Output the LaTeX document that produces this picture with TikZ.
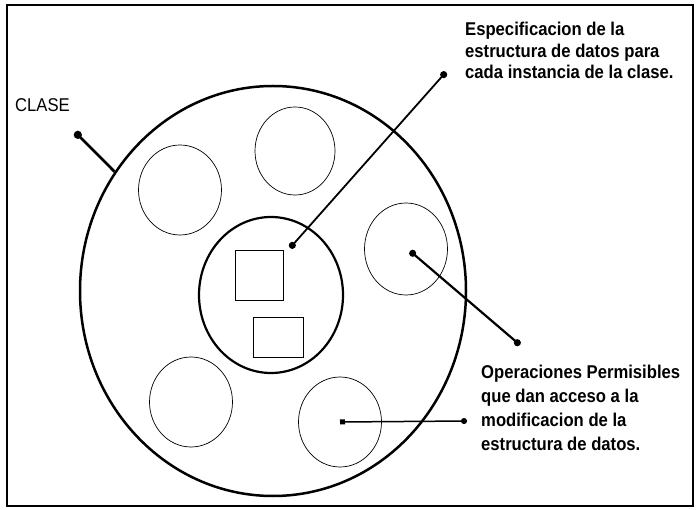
\documentclass[tikz,border=0pt]{standalone}
\usepackage{fontspec}
\setmainfont{Liberation Sans}
\newfontfamily\narrowfont[FakeStretch=0.9]{Liberation Sans}
\usetikzlibrary{shapes.geometric,arrows.meta,positioning}

\begin{document}
\begin{tikzpicture}[x=1pt, y=1pt,
  clase/.style={draw, ellipse, line width=2.5pt, inner sep=0pt},
  objeto/.style={draw, ellipse, line width=0.7pt, inner sep=0pt, minimum width=83pt, minimum height=90pt},
  dato/.style={draw, rectangle, line width=0.7pt, inner sep=0pt},
  guia/.style={line width=1.8pt, {Circle[length=7pt]}-{Circle[length=7pt]}},
  texto/.style={anchor=north west, inner sep=0pt, align=left, font=\narrowfont\bfseries\fontsize{18.5}{21.5}\selectfont}]
  \useasboundingbox (0,0) rectangle (696,509);
  \draw[line width=1.2pt] (7,3) rectangle (693,504);
  \node[clase, minimum width=386pt, minimum height=410pt] (big) at (273,218) {};
  \node[clase, line width=2.2pt, minimum width=144pt, minimum height=156pt] (nucleo) at (271,214) {};
  \node[dato, minimum width=48pt, minimum height=50pt] (sq1) at (259,234) {};
  \node[dato, minimum width=50pt, minimum height=40pt] (sq2) at (278,172) {};
  \node[objeto] (c1) at (180,319) {};
  \node[objeto, minimum width=80pt, minimum height=88pt] (c2) at (295,358) {};
  \node[objeto, minimum height=92pt] (c3) at (406,260) {};
  \node[objeto] (c4) at (191,107) {};
  \node[objeto] (c5) at (340,87) {};
  \node[texto, font=\narrowfont\fontsize{18.5}{21.5}\selectfont] (tclase) at (15,411) {CLASE};
  \node[texto] (tesp) at (465,487) {Especificacion de la\\estructura de datos para\\cada instancia de la clase.};
  \node[texto, font=\narrowfont\bfseries\fontsize{18.5}{24}\selectfont] (top) at (481,144) {Operaciones Permisibles\\que dan acceso a la\\modificacion de la\\estructura de datos.};
  \coordinate (dclase) at (75,377);
  \coordinate (desp) at (446,437);
  \coordinate (dsq) at (290,261);
  \coordinate (dop) at (520,164);
  \coordinate (dc3) at (410,258);
  \coordinate (dmod) at (467,88);
  \draw[line width=2.8pt, {Circle[length=8pt]}-] (dclase) -- (big.143);
  \draw[guia] (desp) -- (dsq);
  \draw[guia, line width=2.2pt] (dc3) -- (dop);
  \draw[line width=1.5pt, {Square[length=5pt]}-{Circle[length=6pt]}] (c5.center) -- (dmod);
\end{tikzpicture}
\end{document}
